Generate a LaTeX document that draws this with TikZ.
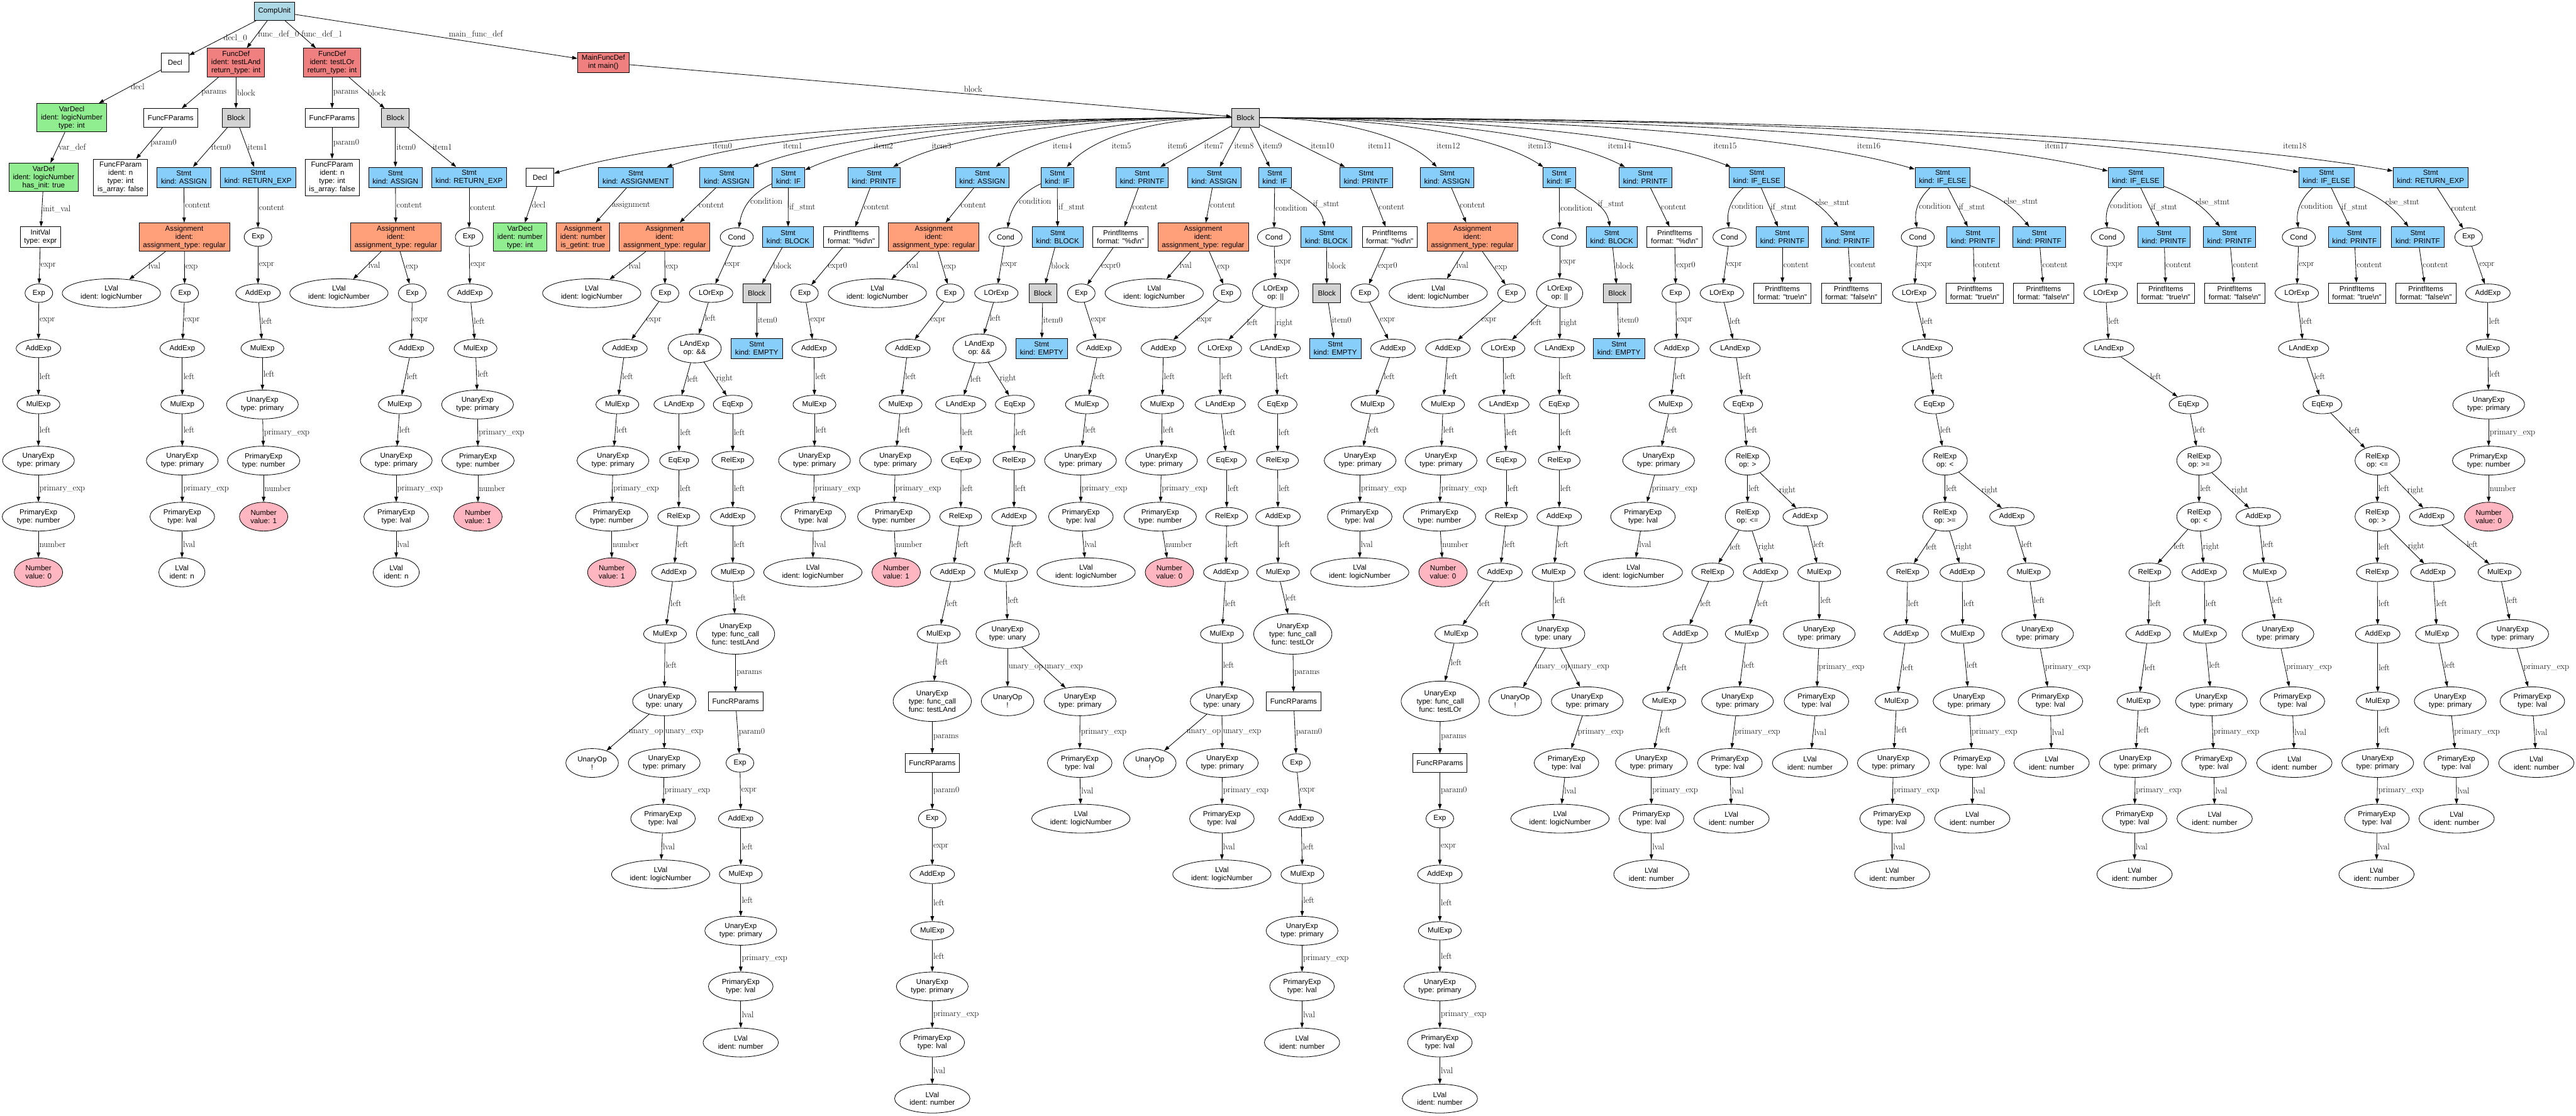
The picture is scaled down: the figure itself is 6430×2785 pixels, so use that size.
\documentclass[tikz,border=0pt]{standalone}
\usepackage{fontspec}
\newfontfamily\nf{Liberation Sans}
\usetikzlibrary{shapes.geometric,arrows.meta}
\definecolor{cuC}{HTML}{ADD8E6}
\definecolor{fdC}{HTML}{F08080}
\definecolor{vdC}{HTML}{90EE90}
\definecolor{blC}{HTML}{D3D3D3}
\definecolor{stC}{HTML}{87CEFA}
\definecolor{asC}{HTML}{FFA07A}
\definecolor{nuC}{HTML}{FFB6C1}
\tikzset{
  nbase/.style={draw, line width=1.3pt, font=\nf\fontsize{18.2}{20.4}\selectfont, align=center},
  B1/.style={nbase, rectangle, inner xsep=10pt, inner ysep=3pt, minimum width=69pt, minimum height=46pt},
  B2/.style={B1, minimum height=51pt},
  B3/.style={B1, minimum height=71pt},
  B4/.style={B1, minimum height=91.6pt},
  E1/.style={nbase, ellipse, inner xsep=7.5pt, inner ysep=3pt, minimum width=69pt, minimum height=46pt},
  E2/.style={nbase, ellipse, inner xsep=10pt, inner ysep=3pt, minimum width=69pt, minimum height=72pt},
  E3/.style={E2, minimum height=100.7pt},
  ST/.style={B2, fill=stC},
  AS/.style={B3, fill=asC},
  BL/.style={B1, fill=blC},
  NU/.style={E2, fill=nuC},
  arr/.style={line width=1.3pt, -{Triangle[length=13pt,width=9pt]}},
  lbl/.style={font=\fontsize{21.5}{24}\selectfont, inner sep=2pt},
  ml/.style={lbl, midway, anchor=west},
}
\newcommand\mk[4]{\node[#1] (#2) at (#3) {#4};}
\newcommand\ed[3]{\draw[arr] (#1) -- node[ml]{#3} (#2);}
\newcommand\ec[3]{\draw[arr] (#1) to[bend right=28] node[ml]{#3} (#2);}
\newcommand\tUP{UnaryExp\\type: primary}
\newcommand\tPL{PrimaryExp\\type: lval}
\newcommand\tPN{PrimaryExp\\type: number}
\newcommand\tLN{LVal\\ident: number}
\newcommand\tLL{LVal\\ident: logicNumber}
\newcommand\tAS{Assignment\\ident: \\assignment\_type: regular}
\newcommand\tUU{UnaryExp\\type: unary}
\newcommand\tUO{UnaryOp\\!}
\newcommand\tFA{UnaryExp\\type: func\_call\\func: testLAnd}
\newcommand\tFO{UnaryExp\\type: func\_call\\func: testLOr}
\newcommand\tPD{PrintfItems\\format: "\%d\textbackslash n"}
\newcommand\tPT{PrintfItems\\format: "true\textbackslash n"}
\newcommand\tPF{PrintfItems\\format: "false\textbackslash n"}
\newcommand\ieedges[2]{%
\ec{#1}{#21}{condition}
\ed{#1}{#22}{if\_stmt}
\draw[arr] (#1) to[bend left=15] node[ml]{else\_stmt} (#23);
\ed{#21}{#24}{expr}
\ed{#22}{#25}{content}
\ed{#23}{#26}{content}
\ed{#24}{#27}{left}
\ed{#27}{#28}{left}
\ed{#28}{#29}{left}
\ed{#29}{#210}{left}
\ed{#29}{#211}{right}
\ed{#210}{#212}{left}
\ed{#210}{#213}{right}
\ed{#211}{#214}{left}
\ed{#212}{#215}{left}
\ed{#213}{#216}{left}
\ed{#214}{#217}{left}
\ed{#215}{#218}{left}
\ed{#216}{#219}{left}
\ed{#217}{#220}{primary\_exp}
\ed{#218}{#221}{left}
\ed{#219}{#222}{primary\_exp}
\ed{#220}{#223}{lval}
\ed{#221}{#224}{primary\_exp}
\ed{#222}{#225}{lval}
\ed{#224}{#226}{lval}
}
\begin{document}
\begin{tikzpicture}[x=1pt,y=1pt]
\useasboundingbox (0,0) rectangle (6430,-2785);
% ---------- top ranks
\mk{B1,fill=cuC}{cu}{685,-28}{CompUnit}
\mk{B1}{decl}{437,-156}{Decl}
\mk{B3,fill=fdC}{fd0}{589,-156}{FuncDef\\ident: testLAnd\\return\_type: int}
\mk{B3,fill=fdC}{fd1}{829,-156}{FuncDef\\ident: testLOr\\return\_type: int}
\mk{B2,fill=fdC}{mfd}{1506,-156}{MainFuncDef\\int main()}
\mk{B3,fill=vdC}{vd}{179,-294}{VarDecl\\ident: logicNumber\\type: int}
\mk{B1}{fp0}{426,-294}{FuncFParams}
\mk{BL}{bk0}{589,-294}{Block}
\mk{B1}{fp1}{829,-294}{FuncFParams}
\mk{BL}{bk1}{987,-294}{Block}
\mk{BL}{mb}{3109,-294}{Block}
\mk{B3,fill=vdC}{vdef}{109,-443}{VarDef\\ident: logicNumber\\has\_init: true}
\mk{B4}{fpa0}{301,-443}{FuncFParam\\ident: n\\type: int\\is\_array: false}
\mk{ST}{s0a}{459,-443}{Stmt\\kind: ASSIGN}
\mk{ST}{s0r}{644,-443}{Stmt\\kind: RETURN\_EXP}
\mk{B4}{fpa1}{829,-443}{FuncFParam\\ident: n\\type: int\\is\_array: false}
\mk{ST}{s1a}{987,-443}{Stmt\\kind: ASSIGN}
\mk{ST}{s1r}{1171,-443}{Stmt\\kind: RETURN\_EXP}
\mk{B1}{i0}{1348,-443}{Decl}
\mk{ST}{i1}{1587,-443}{Stmt\\kind: ASSIGNMENT}
\mk{ST}{i2}{1814,-443}{Stmt\\kind: ASSIGN}
\mk{ST}{i3}{1968,-443}{Stmt\\kind: IF}
\mk{ST}{i4}{2182,-443}{Stmt\\kind: PRINTF}
\mk{ST}{i5}{2452,-443}{Stmt\\kind: ASSIGN}
\mk{ST}{i6}{2639,-443}{Stmt\\kind: IF}
\mk{ST}{i7}{2851,-443}{Stmt\\kind: PRINTF}
\mk{ST}{i8}{3031,-443}{Stmt\\kind: ASSIGN}
\mk{ST}{i9}{3182,-443}{Stmt\\kind: IF}
\mk{ST}{i10}{3410,-443}{Stmt\\kind: PRINTF}
\mk{ST}{i11}{3612,-443}{Stmt\\kind: ASSIGN}
\mk{ST}{i12}{3892,-443}{Stmt\\kind: IF}
\mk{ST}{i13}{4107,-443}{Stmt\\kind: PRINTF}
\mk{ST}{i14}{4385,-443}{Stmt\\kind: IF\_ELSE}
\mk{ST}{i15}{4849,-443}{Stmt\\kind: IF\_ELSE}
\mk{ST}{i16}{5331,-443}{Stmt\\kind: IF\_ELSE}
\mk{ST}{i17}{5807,-443}{Stmt\\kind: IF\_ELSE}
\mk{ST}{i18}{6067,-443}{Stmt\\kind: RETURN\_EXP}
% top edges
\ed{cu}{decl}{decl\_0}
\ed{cu}{fd0}{func\_def\_0}
\ed{cu}{fd1}{func\_def\_1}
\draw[arr] (cu) -- (mfd) node[lbl] at (1188,-86) {main\_func\_def};
\ed{decl}{vd}{decl}
\ed{fd0}{fp0}{params}
\ed{fd0}{bk0}{block}
\ed{fd1}{fp1}{params}
\ed{fd1}{bk1}{block}
\draw[arr] (mfd) -- (mb) node[lbl] at (2429,-222) {block};
\ed{vd}{vdef}{var\_def}
\ed{fp0}{fpa0}{param0}
\ed{bk0}{s0a}{item0}
\ed{bk0}{s0r}{item1}
\ed{fp1}{fpa1}{param0}
\ed{bk1}{s1a}{item0}
\ed{bk1}{s1r}{item1}
% fan from main block
\draw[arr] (mb) .. controls (2405,-294) and (1735,-330) .. (i0) node[lbl] at (1803,-364) {item0};
\draw[arr] (mb) .. controls (2500,-294) and (1922,-330) .. (i1) node[lbl] at (1979,-364) {item1};
\draw[arr] (mb) .. controls (2591,-294) and (2099,-330) .. (i2) node[lbl] at (2205,-364) {item2};
\draw[arr] (mb) .. controls (2653,-294) and (2219,-330) .. (i3) node[lbl] at (2350,-364) {item3};
\draw[arr] (mb) .. controls (2738,-294) and (2386,-330) .. (i4) node[lbl] at (2652,-364) {item4};
\draw[arr] (mb) .. controls (2846,-294) and (2597,-330) .. (i5) node[lbl] at (2799,-364) {item5};
\draw[arr] (mb) .. controls (2921,-294) and (2742,-330) .. (i6) node[lbl] at (2939,-364) {item6};
\draw[arr] (mb) -- (i7) node[lbl] at (3030,-364) {item7};
\draw[arr] (mb) -- (i8) node[lbl] at (3105,-364) {item8};
\draw[arr] (mb) -- (i9) node[lbl] at (3176,-364) {item9};
\draw[arr] (mb) -- (i10) node[lbl] at (3301,-364) {item10};
\draw[arr] (mb) .. controls (3310,-294) and (3501,-330) .. (i11) node[lbl] at (3444,-364) {item11};
\draw[arr] (mb) .. controls (3422,-294) and (3720,-330) .. (i12) node[lbl] at (3615,-364) {item12};
\draw[arr] (mb) .. controls (3508,-294) and (3887,-330) .. (i13) node[lbl] at (3843,-364) {item13};
\draw[arr] (mb) .. controls (3619,-294) and (4104,-330) .. (i14) node[lbl] at (4043,-364) {item14};
\draw[arr] (mb) .. controls (3805,-294) and (4466,-330) .. (i15) node[lbl] at (4306,-364) {item15};
\draw[arr] (mb) .. controls (3998,-294) and (4842,-330) .. (i16) node[lbl] at (4665,-364) {item16};
\draw[arr] (mb) .. controls (4188,-294) and (5213,-330) .. (i17) node[lbl] at (5133,-364) {item17};
\draw[arr] (mb) .. controls (4292,-294) and (5416,-330) .. (i18) node[lbl] at (5728,-364) {item18};
% ---------- global decl chain
\mk{B2}{g1}{101,-592}{InitVal\\type: expr}
\mk{E1}{g2}{97,-732}{Exp}
\mk{E1}{g3}{96,-870}{AddExp}
\mk{E1}{g4}{96,-1010}{MulExp}
\mk{E2}{g5}{96,-1150}{\tUP}
\mk{E2}{g6}{96,-1290}{\tPN}
\mk{NU}{g7}{96,-1429}{Number\\value: 0}
\ed{vdef}{g1}{init\_val}
\ed{g1}{g2}{expr}
\ed{g2}{g3}{expr}
\ed{g3}{g4}{left}
\ed{g4}{g5}{left}
\ed{g5}{g6}{primary\_exp}
\ed{g6}{g7}{number}
% ---------- testLAnd
\mk{AS}{a1}{460,-592}{\tAS}
\mk{E2}{a2}{278,-732}{\tLL}
\mk{E1}{a3}{461,-732}{Exp}
\mk{E1}{a4}{455,-870}{AddExp}
\mk{E1}{a5}{455,-1010}{MulExp}
\mk{E2}{a6}{455,-1150}{\tUP}
\mk{E2}{a7}{455,-1290}{\tPL}
\mk{E2}{a8}{454,-1429}{LVal\\ident: n}
\ed{s0a}{a1}{content}
\ed{a1}{a2}{lval}
\ed{a1}{a3}{exp}
\ed{a3}{a4}{expr}
\ed{a4}{a5}{left}
\ed{a5}{a6}{left}
\ed{a6}{a7}{primary\_exp}
\ed{a7}{a8}{lval}
\mk{E1}{r1}{644,-592}{Exp}
\mk{E1}{r2}{644,-732}{AddExp}
\mk{E1}{r3}{655,-870}{MulExp}
\mk{E2}{r4}{655,-1010}{\tUP}
\mk{E2}{r5}{658,-1150}{\tPN}
\mk{NU}{r6}{658,-1290}{Number\\value: 1}
\ed{s0r}{r1}{content}
\ed{r1}{r2}{expr}
\ed{r2}{r3}{left}
\ed{r3}{r4}{left}
\ed{r4}{r5}{primary\_exp}
\ed{r5}{r6}{number}
% ---------- testLOr
\mk{AS}{c1}{988,-592}{\tAS}
\mk{E2}{c2}{846,-732}{\tLL}
\mk{E1}{c3}{1029,-732}{Exp}
\mk{E1}{c4}{1027,-870}{AddExp}
\mk{E1}{c5}{998,-1010}{MulExp}
\mk{E2}{c6}{989,-1150}{\tUP}
\mk{E2}{c7}{989,-1290}{\tPL}
\mk{E2}{c8}{989,-1429}{LVal\\ident: n}
\ed{s1a}{c1}{content}
\ed{c1}{c2}{lval}
\ed{c1}{c3}{exp}
\ed{c3}{c4}{expr}
\ed{c4}{c5}{left}
\ed{c5}{c6}{left}
\ed{c6}{c7}{primary\_exp}
\ed{c7}{c8}{lval}
\mk{E1}{q1}{1171,-592}{Exp}
\mk{E1}{q2}{1173,-732}{AddExp}
\mk{E1}{q3}{1187,-870}{MulExp}
\mk{E2}{q4}{1192,-1010}{\tUP}
\mk{E2}{q5}{1193,-1150}{\tPN}
\mk{NU}{q6}{1193,-1290}{Number\\value: 1}
\ed{s1r}{q1}{content}
\ed{q1}{q2}{expr}
\ed{q2}{q3}{left}
\ed{q3}{q4}{left}
\ed{q4}{q5}{primary\_exp}
\ed{q5}{q6}{number}
% ---------- main items 0,1
\mk{B3,fill=vdC}{m0v}{1298,-592}{VarDecl\\ident: number\\type: int}
\mk{AS}{m1a}{1455,-592}{Assignment\\ident: number\\is\_getint: true}
\ed{i0}{m0v}{decl}
\ed{i1}{m1a}{assignment}
% ---------- item2
\mk{AS}{d1}{1659,-592}{\tAS}
\mk{E2}{d2}{1477,-732}{\tLL}
\mk{E1}{d3}{1660,-732}{Exp}
\mk{E1}{d4}{1560,-870}{AddExp}
\mk{E1}{d5}{1541,-1010}{MulExp}
\mk{E2}{d6}{1530,-1150}{\tUP}
\mk{E2}{d7}{1527,-1290}{\tPN}
\mk{NU}{d8}{1527,-1429}{Number\\value: 1}
\ed{i2}{d1}{content}
\ed{d1}{d2}{lval}
\ed{d1}{d3}{exp}
\ed{d3}{d4}{expr}
\ed{d4}{d5}{left}
\ed{d5}{d6}{left}
\ed{d6}{d7}{primary\_exp}
\ed{d7}{d8}{number}
% ---------- item3
\mk{E1}{e1}{1839,-592}{Cond}
\mk{ST}{e2}{1967,-592}{Stmt\\kind: BLOCK}
\mk{E1}{e3}{1775,-732}{LOrExp}
\mk{BL}{e4}{1889,-732}{Block}
\mk{E2}{e5}{1734,-870}{LAndExp\\op: \&\&}
\mk{ST}{e6}{1889,-870}{Stmt\\kind: EMPTY}
\mk{E1}{e7}{1695,-1010}{LAndExp}
\mk{E1}{e8}{1829,-1010}{EqExp}
\mk{E1}{e9}{1695,-1150}{EqExp}
\mk{E1}{e10}{1829,-1150}{RelExp}
\mk{E1}{e11}{1694,-1290}{RelExp}
\mk{E1}{e12}{1829,-1290}{AddExp}
\mk{E1}{e13}{1682,-1429}{AddExp}
\mk{E1}{e14}{1829,-1429}{MulExp}
\mk{E1}{e15}{1660,-1583}{MulExp}
\mk{E3}{e16}{1836,-1583}{\tFA}
\mk{E2}{e17}{1658,-1751}{\tUU}
\mk{B1}{e18}{1836,-1751}{FuncRParams}
\mk{E2}{e19}{1478,-1905}{\tUO}
\mk{E2}{e20}{1658,-1905}{\tUP}
\mk{E1}{e21}{1847,-1905}{Exp}
\mk{E2}{e22}{1655,-2044}{\tPL}
\mk{E1}{e23}{1849,-2044}{AddExp}
\mk{E2}{e24}{1649,-2183}{\tLL}
\mk{E1}{e25}{1849,-2183}{MulExp}
\mk{E2}{e26}{1849,-2324}{\tUP}
\mk{E2}{e27}{1849,-2463}{\tPL}
\mk{E2}{e28}{1849,-2603}{\tLN}
\ec{i3}{e1}{condition}
\ed{i3}{e2}{if\_stmt}
\ed{e1}{e3}{expr}
\ed{e2}{e4}{block}
\ed{e3}{e5}{left}
\ed{e4}{e6}{item0}
\ed{e5}{e7}{left}
\ed{e5}{e8}{right}
\ed{e7}{e9}{left}
\ed{e8}{e10}{left}
\ed{e9}{e11}{left}
\ed{e10}{e12}{left}
\ed{e11}{e13}{left}
\ed{e12}{e14}{left}
\ed{e13}{e15}{left}
\ed{e14}{e16}{left}
\ed{e15}{e17}{left}
\ed{e16}{e18}{params}
\ed{e17}{e19}{unary\_op}
\ed{e17}{e20}{unary\_exp}
\ed{e18}{e21}{param0}
\ed{e20}{e22}{primary\_exp}
\ed{e21}{e23}{expr}
\ed{e22}{e24}{lval}
\ed{e23}{e25}{left}
\ed{e25}{e26}{left}
\ed{e26}{e27}{primary\_exp}
\ed{e27}{e28}{lval}
% ---------- item4
\mk{B2}{f1}{2125,-592}{\tPD}
\mk{E1}{f2}{2008,-732}{Exp}
\mk{E1}{f3}{2032,-870}{AddExp}
\mk{E1}{f4}{2033,-1010}{MulExp}
\mk{E2}{f5}{2033,-1150}{\tUP}
\mk{E2}{f6}{2030,-1290}{\tPL}
\mk{E2}{f7}{2029,-1429}{\tLL}
\ed{i4}{f1}{content}
\ed{f1}{f2}{expr0}
\ed{f2}{f3}{expr}
\ed{f3}{f4}{left}
\ed{f4}{f5}{left}
\ed{f5}{f6}{primary\_exp}
\ed{f6}{f7}{lval}
% ---------- item5
\mk{AS}{h1}{2331,-592}{\tAS}
\mk{E2}{h2}{2190,-732}{\tLL}
\mk{E1}{h3}{2372,-732}{Exp}
\mk{E1}{h4}{2266,-870}{AddExp}
\mk{E1}{h5}{2248,-1010}{MulExp}
\mk{E2}{h6}{2235,-1150}{\tUP}
\mk{E2}{h7}{2231,-1290}{\tPN}
\mk{NU}{h8}{2237,-1429}{Number\\value: 1}
\ed{i5}{h1}{content}
\ed{h1}{h2}{lval}
\ed{h1}{h3}{exp}
\ed{h3}{h4}{expr}
\ed{h4}{h5}{left}
\ed{h5}{h6}{left}
\ed{h6}{h7}{primary\_exp}
\ed{h7}{h8}{number}
% ---------- item6
\mk{E1}{k1}{2510,-592}{Cond}
\mk{ST}{k2}{2640,-592}{Stmt\\kind: BLOCK}
\mk{E1}{k3}{2487,-732}{LOrExp}
\mk{BL}{k4}{2603,-732}{Block}
\mk{E2}{k5}{2445,-870}{LAndExp\\op: \&\&}
\mk{ST}{k6}{2600,-870}{Stmt\\kind: EMPTY}
\mk{E1}{k7}{2398,-1010}{LAndExp}
\mk{E1}{k8}{2533,-1010}{EqExp}
\mk{E1}{k9}{2399,-1150}{EqExp}
\mk{E1}{k10}{2531,-1150}{RelExp}
\mk{E1}{k11}{2398,-1290}{RelExp}
\mk{E1}{k12}{2531,-1290}{AddExp}
\mk{E1}{k13}{2378,-1429}{AddExp}
\mk{E1}{k14}{2511,-1429}{MulExp}
\mk{E1}{k15}{2343,-1583}{MulExp}
\mk{E2}{k16}{2515,-1583}{\tUU}
\mk{E3}{k17}{2327,-1751}{\tFA}
\mk{E2}{k18}{2515,-1751}{\tUO}
\mk{E2}{k19}{2696,-1751}{\tUP}
\mk{B1}{k20}{2327,-1905}{FuncRParams}
\mk{E2}{k21}{2695,-1905}{\tPL}
\mk{E1}{k22}{2327,-2044}{Exp}
\mk{E2}{k23}{2698,-2044}{\tLL}
\mk{E1}{k24}{2327,-2183}{AddExp}
\mk{E1}{k25}{2327,-2324}{MulExp}
\mk{E2}{k26}{2327,-2463}{\tUP}
\mk{E2}{k27}{2327,-2603}{\tPL}
\mk{E2}{k28}{2327,-2743}{\tLN}
\ec{i6}{k1}{condition}
\ed{i6}{k2}{if\_stmt}
\ed{k1}{k3}{expr}
\ed{k2}{k4}{block}
\ed{k3}{k5}{left}
\ed{k4}{k6}{item0}
\ed{k5}{k7}{left}
\ed{k5}{k8}{right}
\ed{k7}{k9}{left}
\ed{k8}{k10}{left}
\ed{k9}{k11}{left}
\ed{k10}{k12}{left}
\ed{k11}{k13}{left}
\ed{k12}{k14}{left}
\ed{k13}{k15}{left}
\ed{k14}{k16}{left}
\ed{k15}{k17}{left}
\ed{k16}{k18}{unary\_op}
\ed{k16}{k19}{unary\_exp}
\ed{k17}{k20}{params}
\ed{k19}{k21}{primary\_exp}
\ed{k20}{k22}{param0}
\ed{k21}{k23}{lval}
\ed{k22}{k24}{expr}
\ed{k24}{k25}{left}
\ed{k25}{k26}{left}
\ed{k26}{k27}{primary\_exp}
\ed{k27}{k28}{lval}
% ---------- item7
\mk{B2}{n1}{2797,-592}{\tPD}
\mk{E1}{n2}{2699,-732}{Exp}
\mk{E1}{n3}{2743,-870}{AddExp}
\mk{E1}{n4}{2713,-1010}{MulExp}
\mk{E2}{n5}{2697,-1150}{\tUP}
\mk{E2}{n6}{2698,-1290}{\tPL}
\mk{E2}{n7}{2711,-1429}{\tLL}
\ed{i7}{n1}{content}
\ed{n1}{n2}{expr0}
\ed{n2}{n3}{expr}
\ed{n3}{n4}{left}
\ed{n4}{n5}{left}
\ed{n5}{n6}{primary\_exp}
\ed{n6}{n7}{lval}
% ---------- item8
\mk{AS}{p1}{3003,-592}{\tAS}
\mk{E2}{p2}{2881,-732}{\tLL}
\mk{E1}{p3}{3063,-732}{Exp}
\mk{E1}{p4}{2904,-870}{AddExp}
\mk{E1}{p5}{2901,-1010}{MulExp}
\mk{E2}{p6}{2899,-1150}{\tUP}
\mk{E2}{p7}{2896,-1290}{\tPN}
\mk{NU}{p8}{2919,-1429}{Number\\value: 0}
\ed{i8}{p1}{content}
\ed{p1}{p2}{lval}
\ed{p1}{p3}{exp}
\ed{p3}{p4}{expr}
\ed{p4}{p5}{left}
\ed{p5}{p6}{left}
\ed{p6}{p7}{primary\_exp}
\ed{p7}{p8}{number}
% ---------- item9
\mk{E1}{t1}{3180,-592}{Cond}
\mk{ST}{t2}{3311,-592}{Stmt\\kind: BLOCK}
\mk{E2}{t3}{3184,-732}{LOrExp\\op: ||}
\mk{BL}{t4}{3312,-732}{Block}
\mk{E1}{t5}{3045,-870}{LOrExp}
\mk{E1}{t6}{3183,-870}{LAndExp}
\mk{ST}{t7}{3333,-870}{Stmt\\kind: EMPTY}
\mk{E1}{t8}{3046,-1010}{LAndExp}
\mk{E1}{t9}{3189,-1010}{EqExp}
\mk{E1}{t10}{3062,-1150}{EqExp}
\mk{E1}{t11}{3189,-1150}{RelExp}
\mk{E1}{t12}{3062,-1290}{RelExp}
\mk{E1}{t13}{3190,-1290}{AddExp}
\mk{E1}{t14}{3060,-1429}{AddExp}
\mk{E1}{t15}{3190,-1429}{MulExp}
\mk{E1}{t16}{3050,-1583}{MulExp}
\mk{E3}{t17}{3227,-1583}{\tFO}
\mk{E2}{t18}{3050,-1751}{\tUU}
\mk{B1}{t19}{3229,-1751}{FuncRParams}
\mk{E2}{t20}{2870,-1905}{\tUO}
\mk{E2}{t21}{3051,-1905}{\tUP}
\mk{E1}{t22}{3236,-1905}{Exp}
\mk{E2}{t23}{3050,-2044}{\tPL}
\mk{E1}{t24}{3248,-2044}{AddExp}
\mk{E2}{t25}{3050,-2183}{\tLL}
\mk{E1}{t26}{3251,-2183}{MulExp}
\mk{E2}{t27}{3250,-2324}{\tUP}
\mk{E2}{t28}{3250,-2463}{\tPL}
\mk{E2}{t29}{3250,-2603}{\tLN}
\ed{i9}{t1}{condition}
\draw[arr] (i9) to[out=-35,in=100] node[ml]{if\_stmt} (t2);
\ed{t1}{t3}{expr}
\ed{t2}{t4}{block}
\ed{t3}{t5}{left}
\ed{t3}{t6}{right}
\ed{t4}{t7}{item0}
\ed{t5}{t8}{left}
\ed{t6}{t9}{left}
\ed{t8}{t10}{left}
\ed{t9}{t11}{left}
\ed{t10}{t12}{left}
\ed{t11}{t13}{left}
\ed{t12}{t14}{left}
\ed{t13}{t15}{left}
\ed{t14}{t16}{left}
\ed{t15}{t17}{left}
\ed{t16}{t18}{left}
\ed{t17}{t19}{params}
\ed{t18}{t20}{unary\_op}
\ed{t18}{t21}{unary\_exp}
\ed{t19}{t22}{param0}
\ed{t21}{t23}{primary\_exp}
\ed{t22}{t24}{expr}
\ed{t23}{t25}{lval}
\ed{t24}{t26}{left}
\ed{t26}{t27}{left}
\ed{t27}{t28}{primary\_exp}
\ed{t28}{t29}{lval}
% ---------- item10
\mk{B2}{u1}{3469,-592}{\tPD}
\mk{E1}{u2}{3407,-732}{Exp}
\mk{E1}{u3}{3477,-870}{AddExp}
\mk{E1}{u4}{3426,-1010}{MulExp}
\mk{E2}{u5}{3395,-1150}{\tUP}
\mk{E2}{u6}{3394,-1290}{\tPL}
\mk{E2}{u7}{3394,-1429}{\tLL}
\ed{i10}{u1}{content}
\ed{u1}{u2}{expr0}
\ed{u2}{u3}{expr}
\ed{u3}{u4}{left}
\ed{u4}{u5}{left}
\ed{u5}{u6}{primary\_exp}
\ed{u6}{u7}{lval}
% ---------- item11
\mk{AS}{v1}{3675,-592}{\tAS}
\mk{E2}{v2}{3590,-732}{\tLL}
\mk{E1}{v3}{3773,-732}{Exp}
\mk{E1}{v4}{3614,-870}{AddExp}
\mk{E1}{v5}{3602,-1010}{MulExp}
\mk{E2}{v6}{3597,-1150}{\tUP}
\mk{E2}{v7}{3593,-1290}{\tPN}
\mk{NU}{v8}{3602,-1429}{Number\\value: 0}
\ed{i11}{v1}{content}
\ed{v1}{v2}{lval}
\ed{v1}{v3}{exp}
\ed{v3}{v4}{expr}
\ed{v4}{v5}{left}
\ed{v5}{v6}{left}
\ed{v6}{v7}{primary\_exp}
\ed{v7}{v8}{number}
% ---------- item12
\mk{E1}{w1}{3893,-592}{Cond}
\mk{ST}{w2}{4023,-592}{Stmt\\kind: BLOCK}
\mk{E2}{w3}{3893,-732}{LOrExp\\op: ||}
\mk{BL}{w4}{4037,-732}{Block}
\mk{E1}{w5}{3752,-870}{LOrExp}
\mk{E1}{w6}{3893,-870}{LAndExp}
\mk{ST}{w7}{4041,-870}{Stmt\\kind: EMPTY}
\mk{E1}{w8}{3754,-1010}{LAndExp}
\mk{E1}{w9}{3892,-1010}{EqExp}
\mk{E1}{w10}{3760,-1150}{EqExp}
\mk{E1}{w11}{3892,-1150}{RelExp}
\mk{E1}{w12}{3760,-1290}{RelExp}
\mk{E1}{w13}{3892,-1290}{AddExp}
\mk{E1}{w14}{3744,-1429}{AddExp}
\mk{E1}{w15}{3878,-1429}{MulExp}
\mk{E1}{w16}{3635,-1583}{MulExp}
\mk{E2}{w17}{3877,-1583}{\tUU}
\mk{E3}{w18}{3595,-1751}{\tFO}
\mk{E2}{w19}{3782,-1751}{\tUO}
\mk{E2}{w20}{3962,-1751}{\tUP}
\mk{B1}{w21}{3594,-1905}{FuncRParams}
\mk{E2}{w22}{3910,-1905}{\tPL}
\mk{E1}{w23}{3594,-2044}{Exp}
\mk{E2}{w24}{3894,-2044}{\tLL}
\mk{E1}{w25}{3594,-2183}{AddExp}
\mk{E1}{w26}{3594,-2324}{MulExp}
\mk{E2}{w27}{3594,-2463}{\tUP}
\mk{E2}{w28}{3594,-2603}{\tPL}
\mk{E2}{w29}{3594,-2743}{\tLN}
\ed{i12}{w1}{condition}
\draw[arr] (i12) to[out=-35,in=100] node[ml]{if\_stmt} (w2);
\ed{w1}{w3}{expr}
\ed{w2}{w4}{block}
\ed{w3}{w5}{left}
\ed{w3}{w6}{right}
\ed{w4}{w7}{item0}
\ed{w5}{w8}{left}
\ed{w6}{w9}{left}
\ed{w8}{w10}{left}
\ed{w9}{w11}{left}
\ed{w10}{w12}{left}
\ed{w11}{w13}{left}
\ed{w12}{w14}{left}
\ed{w13}{w15}{left}
\ed{w14}{w16}{left}
\ed{w15}{w17}{left}
\ed{w16}{w18}{left}
\ed{w17}{w19}{unary\_op}
\ed{w17}{w20}{unary\_exp}
\ed{w18}{w21}{params}
\ed{w20}{w22}{primary\_exp}
\ed{w21}{w23}{param0}
\ed{w22}{w24}{lval}
\ed{w23}{w25}{expr}
\ed{w25}{w26}{left}
\ed{w26}{w27}{left}
\ed{w27}{w28}{primary\_exp}
\ed{w28}{w29}{lval}
% ---------- item13
\mk{B2}{x1}{4180,-592}{\tPD}
\mk{E1}{x2}{4183,-732}{Exp}
\mk{E1}{x3}{4185,-870}{AddExp}
\mk{E1}{x4}{4170,-1010}{MulExp}
\mk{E2}{x5}{4140,-1150}{\tUP}
\mk{E2}{x6}{4101,-1290}{\tPL}
\mk{E2}{x7}{4077,-1429}{\tLL}
\ed{i13}{x1}{content}
\ed{x1}{x2}{expr0}
\ed{x2}{x3}{expr}
\ed{x3}{x4}{left}
\ed{x4}{x5}{left}
\ed{x5}{x6}{primary\_exp}
\ed{x6}{x7}{lval}
% ---------- item14
\mk{E1}{y1}{4317,-592}{Cond}
\mk{ST}{y2}{4449,-592}{Stmt\\kind: PRINTF}
\mk{ST}{y3}{4612,-592}{Stmt\\kind: PRINTF}
\mk{E1}{y4}{4298,-732}{LOrExp}
\mk{B2}{y5}{4449,-732}{\tPT}
\mk{B2}{y6}{4621,-732}{\tPF}
\mk{E1}{y7}{4331,-870}{LAndExp}
\mk{E1}{y8}{4351,-1010}{EqExp}
\mk{E2}{y9}{4362,-1150}{RelExp\\op: >}
\mk{E2}{y10}{4362,-1290}{RelExp\\op: <=}
\mk{E1}{y11}{4506,-1290}{AddExp}
\mk{E1}{y12}{4275,-1429}{RelExp}
\mk{E1}{y13}{4407,-1429}{AddExp}
\mk{E1}{y14}{4541,-1429}{MulExp}
\mk{E1}{y15}{4207,-1583}{AddExp}
\mk{E1}{y16}{4360,-1583}{MulExp}
\mk{E2}{y17}{4541,-1583}{\tUP}
\mk{E1}{y18}{4154,-1751}{MulExp}
\mk{E2}{y19}{4337,-1751}{\tUP}
\mk{E2}{y20}{4534,-1751}{\tPL}
\mk{E2}{y21}{4122,-1905}{\tUP}
\mk{E2}{y22}{4318,-1905}{\tPL}
\mk{E2}{y23}{4518,-1905}{\tLN}
\mk{E2}{y24}{4122,-2044}{\tPL}
\mk{E2}{y25}{4322,-2044}{\tLN}
\mk{E2}{y26}{4122,-2183}{\tLN}
\ieedges{i14}{y}
% ---------- item15
\mk{E1}{z1}{4787,-592}{Cond}
\mk{ST}{z2}{4925,-592}{Stmt\\kind: PRINTF}
\mk{ST}{z3}{5090,-592}{Stmt\\kind: PRINTF}
\mk{E1}{z4}{4778,-732}{LOrExp}
\mk{B2}{z5}{4929,-732}{\tPT}
\mk{B2}{z6}{5101,-732}{\tPF}
\mk{E1}{z7}{4811,-870}{LAndExp}
\mk{E1}{z8}{4828,-1010}{EqExp}
\mk{E2}{z9}{4855,-1150}{RelExp\\op: <}
\mk{E2}{z10}{4855,-1290}{RelExp\\op: >=}
\mk{E1}{z11}{5022,-1290}{AddExp}
\mk{E1}{z12}{4762,-1429}{RelExp}
\mk{E1}{z13}{4898,-1429}{AddExp}
\mk{E1}{z14}{5064,-1429}{MulExp}
\mk{E1}{z15}{4758,-1583}{AddExp}
\mk{E1}{z16}{4899,-1583}{MulExp}
\mk{E2}{z17}{5086,-1583}{\tUP}
\mk{E1}{z18}{4734,-1751}{MulExp}
\mk{E2}{z19}{4915,-1751}{\tUP}
\mk{E2}{z20}{5118,-1751}{\tPL}
\mk{E2}{z21}{4726,-1905}{\tUP}
\mk{E2}{z22}{4923,-1905}{\tPL}
\mk{E2}{z23}{5121,-1905}{\tLN}
\mk{E2}{z24}{4723,-2044}{\tPL}
\mk{E2}{z25}{4923,-2044}{\tLN}
\mk{E2}{z26}{4723,-2183}{\tLN}
\ieedges{i15}{z}
% ---------- item16
\mk{E1}{ga1}{5261,-592}{Cond}
\mk{ST}{ga2}{5402,-592}{Stmt\\kind: PRINTF}
\mk{ST}{ga3}{5565,-592}{Stmt\\kind: PRINTF}
\mk{E1}{ga4}{5256,-732}{LOrExp}
\mk{B2}{ga5}{5406,-732}{\tPT}
\mk{B2}{ga6}{5578,-732}{\tPF}
\mk{E1}{ga7}{5264,-870}{LAndExp}
\mk{E1}{ga8}{5463,-1010}{EqExp}
\mk{E2}{ga9}{5489,-1150}{RelExp\\op: >=}
\mk{E2}{ga10}{5489,-1290}{RelExp\\op: <}
\mk{E1}{ga11}{5637,-1290}{AddExp}
\mk{E1}{ga12}{5366,-1429}{RelExp}
\mk{E1}{ga13}{5502,-1429}{AddExp}
\mk{E1}{ga14}{5653,-1429}{MulExp}
\mk{E1}{ga15}{5362,-1583}{AddExp}
\mk{E1}{ga16}{5504,-1583}{MulExp}
\mk{E2}{ga17}{5686,-1583}{\tUP}
\mk{E1}{ga18}{5338,-1751}{MulExp}
\mk{E2}{ga19}{5520,-1751}{\tUP}
\mk{E2}{ga20}{5722,-1751}{\tPL}
\mk{E2}{ga21}{5330,-1905}{\tUP}
\mk{E2}{ga22}{5526,-1905}{\tPL}
\mk{E2}{ga23}{5727,-1905}{\tLN}
\mk{E2}{ga24}{5328,-2044}{\tPL}
\mk{E2}{ga25}{5528,-2044}{\tLN}
\mk{E2}{ga26}{5328,-2183}{\tLN}
\ieedges{i16}{ga}
% ---------- item17
\mk{E1}{ha1}{5738,-592}{Cond}
\mk{ST}{ha2}{5877,-592}{Stmt\\kind: PRINTF}
\mk{ST}{ha3}{6035,-592}{Stmt\\kind: PRINTF}
\mk{E1}{ha4}{5733,-732}{LOrExp}
\mk{B2}{ha5}{5883,-732}{\tPT}
\mk{B2}{ha6}{6055,-732}{\tPF}
\mk{E1}{ha7}{5750,-870}{LAndExp}
\mk{E1}{ha8}{5797,-1010}{EqExp}
\mk{E2}{ha9}{5934,-1150}{RelExp\\op: <=}
\mk{E2}{ha10}{5934,-1290}{RelExp\\op: >}
\mk{E1}{ha11}{6070,-1290}{AddExp}
\mk{E1}{ha12}{5934,-1429}{RelExp}
\mk{E1}{ha13}{6073,-1429}{AddExp}
\mk{E1}{ha14}{6239,-1429}{MulExp}
\mk{E1}{ha15}{5935,-1583}{AddExp}
\mk{E1}{ha16}{6083,-1583}{MulExp}
\mk{E2}{ha17}{6272,-1583}{\tUP}
\mk{E1}{ha18}{5935,-1751}{MulExp}
\mk{E2}{ha19}{6116,-1751}{\tUP}
\mk{E2}{ha20}{6321,-1751}{\tPL}
\mk{E2}{ha21}{5935,-1905}{\tUP}
\mk{E2}{ha22}{6131,-1905}{\tPL}
\mk{E2}{ha23}{6331,-1905}{\tLN}
\mk{E2}{ha24}{5933,-2044}{\tPL}
\mk{E2}{ha25}{6132,-2044}{\tLN}
\mk{E2}{ha26}{5932,-2183}{\tLN}
\ieedges{i17}{ha}
% ---------- item18
\mk{E1}{ja1}{6162,-592}{Exp}
\mk{E1}{ja2}{6210,-732}{AddExp}
\mk{E1}{ja3}{6210,-870}{MulExp}
\mk{E2}{ja4}{6212,-1010}{\tUP}
\mk{E2}{ja5}{6212,-1150}{\tPN}
\mk{NU}{ja6}{6212,-1290}{Number\\value: 0}
\ed{i18}{ja1}{content}
\ed{ja1}{ja2}{expr}
\ed{ja2}{ja3}{left}
\ed{ja3}{ja4}{left}
\ed{ja4}{ja5}{primary\_exp}
\ed{ja5}{ja6}{number}
\end{tikzpicture}
\end{document}
